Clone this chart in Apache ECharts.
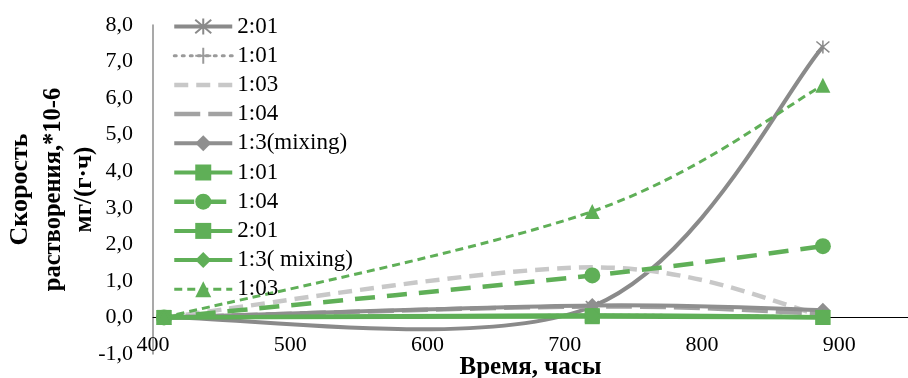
<!DOCTYPE html>
<html>
<head>
<meta charset="utf-8">
<script src="https://cdn.jsdelivr.net/npm/echarts@6/dist/echarts.min.js"></script>
<style>
html,body{margin:0;padding:0;background:#fff;}
#chart{width:908px;height:378px;}
</style>
</head>
<body>
<div id="chart"></div>
<script>
// Time points (hours)
const hours = [408, 720, 888];
// Series values (*10^-6 mg/(g·h))
const gray_2_01 = [0, 0.30, 7.40];
const gray_1_01 = [0, 0.06, 0.02];
const gray_1_03 = [0, 1.37, 0.05];
const gray_1_04 = [0, 0.30, 0.10];
const gray_1_3mix = [0, 0.33, 0.20];
const green_1_01 = [0, 0.05, 0.00];
const green_1_04 = [0, 1.15, 1.95];
const green_2_01 = [0, 0.02, 0.00];
const green_1_3mix = [0, 0.06, 0.01];
const green_1_03 = [0, 2.90, 6.35];
// Legend labels
const names = ['2:01', '1:01', '1:03', '1:04', '1:3(mixing)', '1:01', '1:04', '2:01', '1:3( mixing)', '1:03'];
// Axis ranges
const yMin = -1, yMax = 8, yStep = 1;
const xMin = 400, xMax = 950, xStep = 100;

const ZW = '\u200B';
const uniq = names.map((n, i) => i >= 5 && names.indexOf(n) < 5 ? n + ZW : n);

const FONT = 'Liberation Serif';
const GREEN = '#5faf57';
const pts = arr => hours.map((h, i) => [h, arr[i]]);

const asterisk = 'path://M0,0L10,10M10,0L0,10M5,-1L5,11';
const plus = 'path://M5,0L5,10M0,5L10,5';

const defs = [
  {name: uniq[0], vals: gray_2_01, symbol: asterisk, symbolSize: 13,
   itemStyle: {color: 'rgba(0,0,0,0)', borderColor: '#8a8a8a', borderWidth: 1.5},
   line: {color: '#8a8a8a', width: 4}},
  {name: uniq[1], vals: gray_1_01, symbol: plus, symbolSize: 13,
   itemStyle: {color: 'rgba(0,0,0,0)', borderColor: '#9a9a9a', borderWidth: 1.5},
   line: {color: '#9a9a9a', width: 3, type: [2, 6], cap: 'round'}},
  {name: uniq[2], vals: gray_1_03, symbol: 'none',
   itemStyle: {color: '#c8c8c8'},
   line: {color: '#c8c8c8', width: 4.5, type: [14, 8]}},
  {name: uniq[3], vals: gray_1_04, symbol: 'none',
   itemStyle: {color: '#a2a2a2'},
   line: {color: '#a2a2a2', width: 4.5, type: [26, 8]}},
  {name: uniq[4], vals: gray_1_3mix, symbol: 'diamond', symbolSize: 15,
   itemStyle: {color: '#8f8f8f'},
   line: {color: '#8f8f8f', width: 4}},
  {name: uniq[5], vals: green_1_01, symbol: 'rect', symbolSize: 15,
   itemStyle: {color: GREEN}, line: {color: GREEN, width: 4}},
  {name: uniq[6], vals: green_1_04, symbol: 'circle', symbolSize: 16,
   itemStyle: {color: GREEN}, line: {color: GREEN, width: 4.5, type: [20, 12]}},
  {name: uniq[7], vals: green_2_01, symbol: 'rect', symbolSize: 15,
   itemStyle: {color: GREEN}, line: {color: GREEN, width: 4}},
  {name: uniq[8], vals: green_1_3mix, symbol: 'diamond', symbolSize: 15,
   itemStyle: {color: GREEN}, line: {color: GREEN, width: 4}},
  {name: uniq[9], vals: green_1_03, symbol: 'triangle', symbolSize: 15,
   itemStyle: {color: GREEN}, line: {color: GREEN, width: 3, type: [8, 5]}}
];

// Excel-like smoothed curve (Catmull-Rom, tension 1/6) through the data points,
// positioned with the library's coordinate system (api.coord).
function curveSeries(d) {
  const data = pts(d.vals);
  return {
    type: 'custom', silent: true, clip: true, animation: false,
    data: data,
    encode: {x: 0, y: 1},
    renderItem: function (params, api) {
      if (params.dataIndex !== 0) return null;
      const p = data.map(v => api.coord(v));
      const n = p.length;
      let dstr = 'M' + p[0][0] + ',' + p[0][1];
      for (let i = 0; i < n - 1; i++) {
        const p0 = p[Math.max(i - 1, 0)], p1 = p[i], p2 = p[i + 1], p3 = p[Math.min(i + 2, n - 1)];
        const c1 = [p1[0] + (p2[0] - p0[0]) / 6, p1[1] + (p2[1] - p0[1]) / 6];
        const c2 = [p2[0] - (p3[0] - p1[0]) / 6, p2[1] - (p3[1] - p1[1]) / 6];
        dstr += 'C' + c1[0] + ',' + c1[1] + ',' + c2[0] + ',' + c2[1] + ',' + p2[0] + ',' + p2[1];
      }
      return {
        type: 'path',
        shape: {pathData: dstr},
        style: {
          fill: 'none', stroke: d.line.color, lineWidth: d.line.width,
          lineDash: d.line.type || null, lineCap: d.line.cap || 'butt'
        }
      };
    }
  };
}

const series = [];
defs.forEach(d => {
  series.push(curveSeries(d));
  series.push({
    type: 'line', name: d.name, data: pts(d.vals),
    symbol: d.symbol, symbolSize: d.symbolSize || 0,
    showSymbol: d.symbol !== 'none',
    itemStyle: d.itemStyle,
    lineStyle: {color: d.line.color, width: d.line.width, opacity: 0},
    animation: false
  });
});

const legendData = defs.map(d => {
  const item = {
    name: d.name,
    lineStyle: {color: d.line.color, width: d.line.width, type: d.line.type || 'solid',
      cap: d.line.cap || 'butt', opacity: 1}
  };
  if (d.symbol === 'none') item.itemStyle = {opacity: 0};
  return item;
});

const H = 378, gridTop = 25, gridBottom = 24;
const plotH = H - gridTop - gridBottom;
const zeroOffset = -plotH * (0 - yMin) / (yMax - yMin);

const chart = echarts.init(document.getElementById('chart'), null, {renderer: 'canvas'});
chart.setOption({
  backgroundColor: '#fff',
  animation: false,
  textStyle: {fontFamily: FONT},
  grid: {left: 153, right: 0, top: gridTop, bottom: gridBottom, containLabel: false, outerBoundsMode: 'none'},
  legend: {
    data: legendData,
    orient: 'vertical',
    left: 172,
    top: 15,
    padding: 0,
    itemWidth: 58,
    itemHeight: 20,
    itemGap: 6.2,
    textStyle: {fontFamily: FONT, fontSize: 23, color: '#000'}
  },
  xAxis: {
    type: 'value', min: xMin, max: xMax, interval: xStep,
    offset: zeroOffset,
    axisLine: {onZero: false, lineStyle: {color: '#000', width: 1}},
    axisTick: {show: false},
    splitLine: {show: false},
    axisLabel: {showMaxLabel: false, margin: 17, fontSize: 22, color: '#000', fontFamily: FONT},
    name: 'Время, часы', nameLocation: 'middle', nameGap: 38, nameMoveOverlap: false,
    nameTextStyle: {fontFamily: FONT, fontSize: 25, fontWeight: 'bold', color: '#000'}
  },
  yAxis: {
    type: 'value', min: yMin, max: yMax, interval: yStep,
    axisLine: {show: true, lineStyle: {color: '#8c8c8c', width: 1.5}},
    axisTick: {show: false},
    splitLine: {show: false},
    axisLabel: {margin: 20, fontSize: 22, color: '#000', fontFamily: FONT,
      formatter: v => v.toFixed(1).replace('.', ',')},
    name: '{a|Скорость}\n{c|растворения,*10-6}\n{b|мг/(г·ч)}',
    nameLocation: 'middle', nameRotate: 90, nameGap: 53, nameMoveOverlap: false,
    nameTextStyle: {
      fontFamily: FONT, fontWeight: 'bold', color: '#000', align: 'center',
      rich: {
        a: {fontFamily: FONT, fontSize: 26, fontWeight: 'bold', lineHeight: 33, color: '#000', align: 'center'},
        c: {fontFamily: FONT, fontSize: 24.5, fontWeight: 'bold', lineHeight: 33, color: '#000', align: 'center'},
        b: {fontFamily: FONT, fontSize: 25, fontWeight: 'bold', lineHeight: 30, color: '#000', align: 'center'}
      }
    }
  },
  series: series
});
</script>
</body>
</html>
